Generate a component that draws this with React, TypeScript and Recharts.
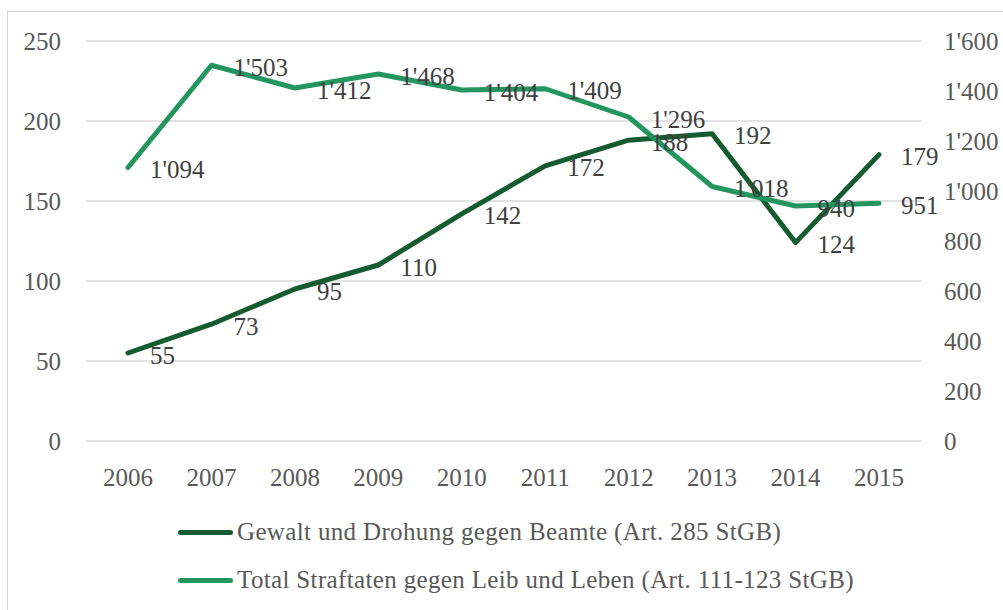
import React from "react";
import { LineChart, Line, XAxis, YAxis, CartesianGrid, Legend } from "recharts";

const years = ["2006", "2007", "2008", "2009", "2010", "2011", "2012", "2013", "2014", "2015"];
const gewalt = [55, 73, 95, 110, 142, 172, 188, 192, 124, 179];
const total = [1094, 1503, 1412, 1468, 1404, 1409, 1296, 1018, 940, 951];
const leftTicks = [0, 50, 100, 150, 200, 250];
const rightTicks = [0, 200, 400, 600, 800, 1000, 1200, 1400, 1600];
const nameGewalt = "Gewalt und Drohung gegen Beamte (Art. 285 StGB)";
const nameTotal = "Total Straftaten gegen Leib und Leben (Art. 111-123 StGB)";

const data = years.map((y, i) => ({ year: y, gewalt: gewalt[i], total: total[i] }));

const DARK = "#145c2f";
const LIGHT = "#23965f";
const FONT = "'Liberation Serif', serif";
const FS = 25;

const fmt = (v: number) => {
  const s = String(Math.round(v));
  return s.replace(/\B(?=(\d{3})+(?!\d))/g, "'");
};

const renderLabel = (props: any) => {
  const { x, y, value } = props;
  if (x == null || y == null) return null;
  return (
    <text
      x={x + 22}
      y={y + 2}
      dominantBaseline="central"
      textAnchor="start"
      fill="#404040"
      fontFamily={FONT}
      fontSize={FS}
    >
      {fmt(value)}
    </text>
  );
};

const LegendContent = (props: any) => {
  const payload = props.payload || [];
  return (
    <div style={{ fontFamily: FONT, fontSize: FS, color: "#595959", letterSpacing: 0.35 }}>
      {payload.map((p: any, i: number) => (
        <div key={i} style={{ display: "flex", alignItems: "center", height: 48 }}>
          <span
            style={{
              display: "inline-block",
              width: 55,
              height: 5,
              borderRadius: 3,
              background: p.color,
              marginRight: 4,
            }}
          />
          <span style={{ whiteSpace: "nowrap" }}>{p.value}</span>
        </div>
      ))}
    </div>
  );
};

export default function App() {
  return (
    <div style={{ position: "absolute", left: 0, top: 0, width: 1003, height: 610, overflow: "hidden", background: "#fff" }}>
      <div
        style={{
          position: "absolute",
          left: 7,
          top: 11,
          width: 1010,
          height: 620,
          border: "1px solid #d4d4d4",
        }}
      />
      <div style={{ position: "absolute", left: 0, top: 0 }}>
        <LineChart width={1003} height={610} data={data} margin={{ top: 41, right: 0, bottom: 129, left: 0 }}>
          <CartesianGrid yAxisId="left" vertical={false} stroke="#d9d9d9" strokeWidth={1.5} />
          <XAxis
            dataKey="year"
            axisLine={false}
            tickLine={false}
            tickSize={0}
            tickMargin={27}
            height={40}
            padding={{ left: 42, right: 42 }}
            tick={{ fill: "#595959", fontFamily: FONT, fontSize: FS }}
            interval={0}
          />
          <YAxis
            yAxisId="left"
            orientation="left"
            domain={[0, 250]}
            ticks={leftTicks}
            width={86}
            axisLine={false}
            tickLine={false}
            tickSize={0}
            tickMargin={25}
            tick={{ fill: "#595959", fontFamily: FONT, fontSize: FS }}
          />
          <YAxis
            yAxisId="right"
            orientation="right"
            domain={[0, 1600]}
            ticks={rightTicks}
            width={82}
            axisLine={false}
            tickLine={false}
            tickSize={0}
            tickMargin={23}
            tickFormatter={fmt}
            tick={{ fill: "#595959", fontFamily: FONT, fontSize: FS, textAnchor: "start" }}
          />
          <Line
            yAxisId="left"
            dataKey="gewalt"
            name={nameGewalt}
            stroke={DARK}
            strokeWidth={5}
            strokeLinecap="round"
            strokeLinejoin="round"
            dot={false}
            activeDot={false}
            isAnimationActive={false}
            label={renderLabel}
          />
          <Line
            yAxisId="right"
            dataKey="total"
            name={nameTotal}
            stroke={LIGHT}
            strokeWidth={5}
            strokeLinecap="round"
            strokeLinejoin="round"
            dot={false}
            activeDot={false}
            isAnimationActive={false}
            label={renderLabel}
          />
          <Legend
            layout="horizontal"
            verticalAlign="middle"
            align="center"
            content={<LegendContent />}
            wrapperStyle={{ position: "absolute", left: 178, top: 508, width: 780, height: 100 }}
          />
        </LineChart>
      </div>
    </div>
  );
}
